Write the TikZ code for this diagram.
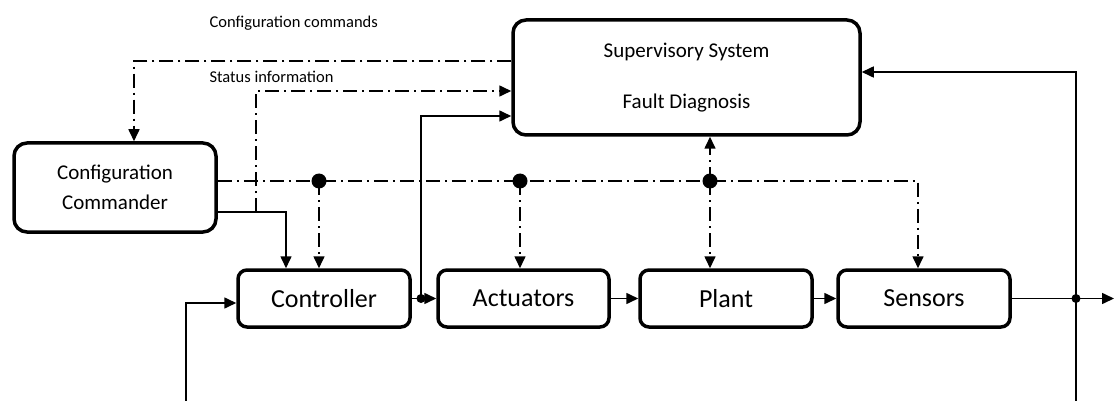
\documentclass[tikz,border=0pt]{standalone}
\usepackage{fontspec}
\setmainfont{Carlito}
\usetikzlibrary{arrows.meta,calc}
\begin{document}
\begin{tikzpicture}[x=1pt,y=-1pt,
  box/.style={draw, line width=3.5pt, rounded corners=9pt, inner sep=0pt},
  conn/.style={line width=1.6pt},
  dd/.style={conn, dash pattern=on 14pt off 5pt on 2pt off 5pt},
  tri/.style={-{Triangle[length=12pt,width=11pt]}},
  bigtxt/.style={font=\fontsize{26}{30}\selectfont},
  midtxt/.style={font=\fontsize{21}{30}\selectfont},
  smalltxt/.style={font=\fontsize{16.5}{20}\selectfont},
  bigdot/.style={fill, circle, inner sep=0pt, minimum size=15pt},
  smalldot/.style={fill, circle, inner sep=0pt, minimum size=9pt}]
\useasboundingbox (0,0) rectangle (1114,401);

% boxes
\node[box, rounded corners=13pt, minimum width=347pt, minimum height=115pt] (sup) at (686.5,77.5) {};
\node[midtxt] (suptxt1) at (686.5,52) {Supervisory System};
\node[midtxt] (suptxt2) at (686.5,103) {Fault Diagnosis};
\node[box, rounded corners=13pt, minimum width=202pt, minimum height=89pt, midtxt, align=center] (cc) at (115,187.5) {Configuration\\Commander};
\node[box, bigtxt, minimum width=172pt, minimum height=57pt] (ctrl) at (324,298.5) {Controller};
\node[box, bigtxt, minimum width=171pt, minimum height=57pt] (act) at (523.5,298.5) {Actuators};
\node[box, bigtxt, minimum width=172pt, minimum height=57pt] (plant) at (726,298.5) {Plant};
\node[box, bigtxt, minimum width=172pt, minimum height=57pt] (sens) at (924,298.5) {Sensors};

% labels
\node[smalltxt, anchor=west] (lcmd) at (206,23) {Configuration commands};
\node[smalltxt, anchor=west] (lstat) at (206,77) {Status information};

% coordinates
\coordinate (cmdS) at (sup.west |- 0,61);
\coordinate (cmdE) at (134,0 |- cc.north);
\coordinate (statS) at (256,212);
\coordinate (statE) at (sup.west |- 0,91);
\coordinate (ccS) at (cc.east |- 0,212);
\coordinate (ctrlIn) at (286,0 |- ctrl.north);
\coordinate (j1) at (421,0 |- ctrl.east);
\coordinate (fbE) at (sup.west |- 0,116);
\coordinate (out) at (1114,0 |- sens.east);
\coordinate (j2) at (1076,0 |- sens.east);
\coordinate (supFbS) at (1076,401);
\coordinate (supFbE) at (sup.east |- 0,72);
\coordinate (ctrlFbS) at (186,401);
\coordinate (ctrlFbE) at (ctrl.west |- 0,303);
\coordinate (busS) at (cc.east |- 0,181);
\coordinate (busE) at (918,0 |- sens.north);
\coordinate (d1) at (319,181);
\coordinate (d2) at (520,181);
\coordinate (d3) at (710,181);

% dash-dot connectors
\draw[dd,tri] (cmdS) -| (cmdE);
\draw[dd,tri] (statS) |- (statE);
\draw[dd,tri] (busS) -| (busE);
\draw[dd,tri] (d1) -- (d1 |- ctrl.north);
\draw[dd,tri] (d2) -- (d2 |- act.north);
\draw[dd,tri] (d3) -- (d3 |- plant.north);
\draw[dd,tri] (d3) -- (d3 |- sup.south);
\node[bigdot] (dot1) at (d1) {};
\node[bigdot] (dot2) at (d2) {};
\node[bigdot] (dot3) at (d3) {};

% solid connectors
\draw[conn,tri] (ccS) -| (ctrlIn);
\draw[conn,tri] (ctrl.east) -- (act.west);
\draw[conn,tri] (j1) |- (fbE);
\draw[conn,tri] (act.east) -- (plant.west);
\draw[conn,tri] (plant.east) -- (sens.west);
\draw[conn,tri] (sens.east) -- (out);
\draw[conn,tri] (supFbS) |- (supFbE);
\draw[conn,tri] (ctrlFbS) |- (ctrlFbE);
\node[smalldot] (dot4) at (j1) {};
\node[smalldot] (dot5) at (j2) {};
\end{tikzpicture}
\end{document}
